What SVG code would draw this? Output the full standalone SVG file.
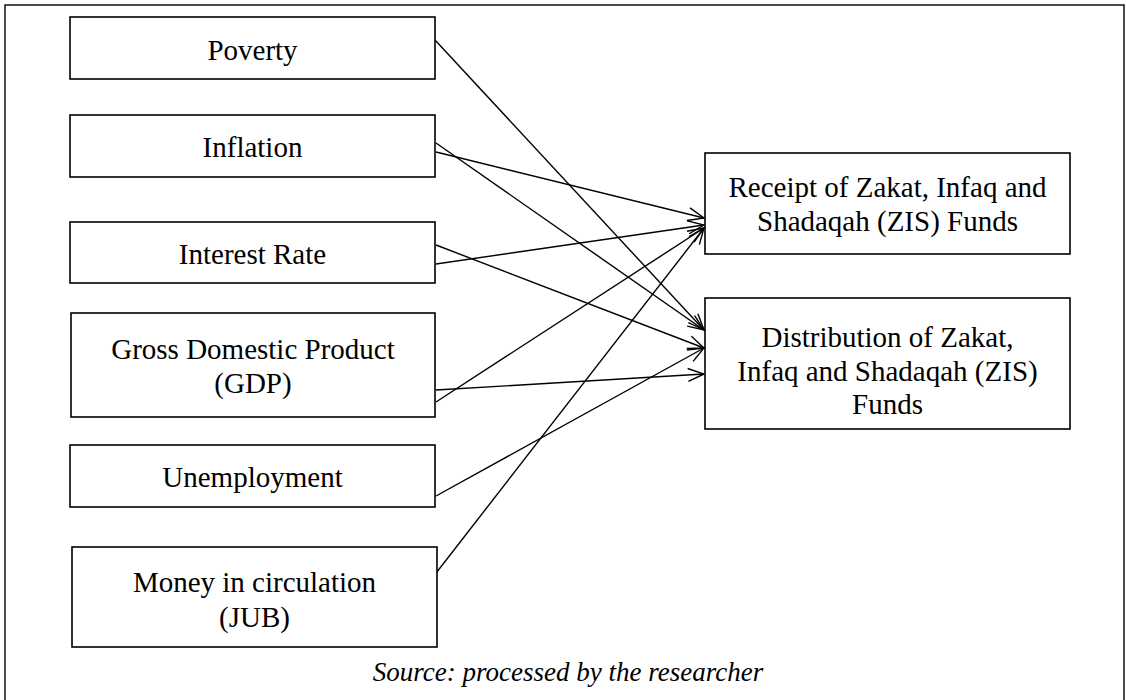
<svg xmlns="http://www.w3.org/2000/svg" width="1126" height="700" viewBox="0 0 1126 700">
<style>
.box{fill:#fff;stroke:#000;stroke-width:1.6}
.t{font-family:"Liberation Serif","Times New Roman",serif;font-size:29px;fill:#000;text-anchor:middle}
.c{fill:none;stroke:#000;stroke-width:1.4}
.src{font-family:"Liberation Serif","Times New Roman",serif;font-size:27px;font-style:italic;fill:#000;text-anchor:middle}
</style>
<defs>
<marker id="ah" markerUnits="userSpaceOnUse" markerWidth="24" markerHeight="24" viewBox="-20 -12 24 24" refX="0" refY="0" orient="auto">
<path d="M-16,-6.5 L0,0 L-16,6.5" fill="none" stroke="#000" stroke-width="1.4"/>
</marker>
</defs>
<rect x="0" y="0" width="1126" height="700" fill="#fff"/>
<rect id="frame" x="5" y="5" width="1119" height="720" fill="none" stroke="#000" stroke-width="1.4"/>

<g id="connectors">
<line class="c" x1="435" y1="40" x2="704" y2="330" marker-end="url(#ah)"/>
<line class="c" x1="436" y1="143" x2="704" y2="330" marker-end="url(#ah)"/>
<line class="c" x1="436" y1="152" x2="704" y2="218" marker-end="url(#ah)"/>
<line class="c" x1="436" y1="245" x2="704" y2="348" marker-end="url(#ah)"/>
<line class="c" x1="436" y1="264" x2="704" y2="225" marker-end="url(#ah)"/>
<line class="c" x1="436" y1="390" x2="704" y2="374" marker-end="url(#ah)"/>
<line class="c" x1="436" y1="402" x2="704" y2="228" marker-end="url(#ah)"/>
<line class="c" x1="436" y1="496" x2="704" y2="348" marker-end="url(#ah)"/>
<line class="c" x1="433" y1="577" x2="704" y2="228" marker-end="url(#ah)"/>
</g>

<g id="poverty"><rect class="box" x="70" y="17" width="365" height="62"/><text class="t" x="252.5" y="60">Poverty</text></g>
<g id="inflation"><rect class="box" x="70" y="115" width="365" height="62"/><text class="t" x="252.5" y="157">Inflation</text></g>
<g id="interest-rate"><rect class="box" x="70" y="222" width="365" height="61"/><text class="t" x="252.5" y="264">Interest Rate</text></g>
<g id="gdp"><rect class="box" x="71" y="313" width="364" height="104"/><text class="t" x="253" y="359">Gross Domestic Product</text><text class="t" x="253" y="393">(GDP)</text></g>
<g id="unemployment"><rect class="box" x="70" y="445" width="365" height="62"/><text class="t" x="252.5" y="487">Unemployment</text></g>
<g id="money"><rect class="box" x="72" y="547" width="365" height="100"/><text class="t" x="254.5" y="592">Money in circulation</text><text class="t" x="254.5" y="627">(JUB)</text></g>

<g id="receipt"><rect class="box" x="705" y="153" width="365" height="101"/><text class="t" x="887.5" y="197">Receipt of Zakat, Infaq and</text><text class="t" x="887.5" y="231">Shadaqah (ZIS) Funds</text></g>
<g id="distribution"><rect class="box" x="705" y="298" width="365" height="131"/><text class="t" x="887.5" y="347">Distribution of Zakat,</text><text class="t" x="887.5" y="381">Infaq and Shadaqah (ZIS)</text><text class="t" x="887.5" y="414">Funds</text></g>

<text class="src" x="568" y="681">Source: processed by the researcher</text>
</svg>
